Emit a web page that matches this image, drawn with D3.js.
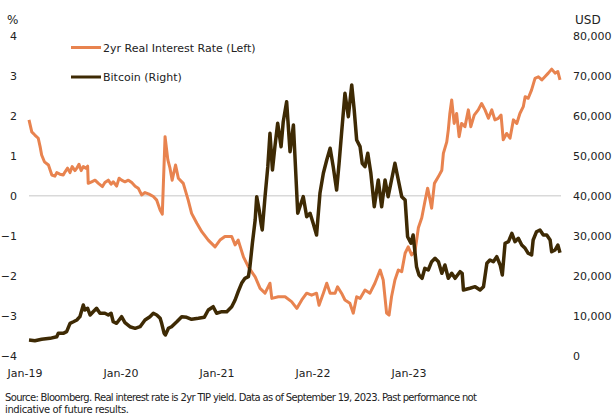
<!DOCTYPE html>
<html>
<head>
<meta charset="utf-8">
<script src="https://cdn.jsdelivr.net/npm/d3@7"></script>
<style>
  body { margin: 0; background: #fff; }
  svg text { font-family: "DejaVu Sans", Verdana, sans-serif; fill: #222; }
</style>
</head>
<body>
<svg id="chart" width="614" height="416"></svg>
<script>
// 2yr real interest rate (%), left axis
var rateDates = [
  "2019-01-02","2019-01-11","2019-01-21","2019-02-01","2019-02-07","2019-02-12","2019-02-21","2019-03-06","2019-03-17",
  "2019-03-27","2019-04-02","2019-04-12","2019-04-23","2019-04-29","2019-05-07","2019-05-15","2019-05-22","2019-05-31",
  "2019-06-06","2019-06-13","2019-06-20","2019-06-27","2019-07-05","2019-07-11","2019-07-13","2019-07-24","2019-08-04",
  "2019-08-15","2019-08-28","2019-09-05","2019-09-16","2019-09-25","2019-10-02","2019-10-13","2019-10-21","2019-10-29",
  "2019-11-09","2019-11-20","2019-12-01","2019-12-12","2019-12-22","2020-01-02","2020-01-13","2020-01-26","2020-02-09",
  "2020-02-20","2020-03-02","2020-03-09","2020-03-18","2020-03-27","2020-04-03","2020-04-10","2020-04-21","2020-04-30",
  "2020-05-16","2020-06-01","2020-06-12","2020-06-29","2020-07-15","2020-08-05","2020-08-27","2020-09-12","2020-09-28",
  "2020-10-20","2020-10-31","2020-11-10","2020-11-27","2020-12-13","2021-01-04","2021-01-20","2021-02-05","2021-02-21",
  "2021-02-27","2021-03-20","2021-04-11","2021-05-02","2021-05-19","2021-06-04","2021-06-20","2021-07-06","2021-07-22",
  "2021-07-30","2021-08-13","2021-08-24","2021-09-04","2021-09-20","2021-09-28","2021-10-11","2021-10-22","2021-11-07",
  "2021-11-18","2021-11-29","2021-12-10","2021-12-26","2022-01-11","2022-01-27","2022-02-13","2022-02-23","2022-03-06",
  "2022-03-14","2022-03-22","2022-04-02","2022-04-13","2022-04-24","2022-05-05","2022-05-15","2022-05-26","2022-06-06",
  "2022-06-17","2022-06-28","2022-07-08","2022-07-17","2022-07-25","2022-07-30","2022-08-08","2022-08-21","2022-09-01",
  "2022-09-06","2022-09-17","2022-09-22","2022-09-27","2022-10-03","2022-10-11","2022-10-19","2022-10-27","2022-11-04",
  "2022-11-15","2022-11-26","2022-12-04","2022-12-15","2022-12-28","2023-01-08","2023-01-19","2023-01-30","2023-02-10",
  "2023-02-20","2023-03-03","2023-03-12","2023-03-19","2023-03-30","2023-04-10","2023-04-21","2023-05-02","2023-05-12",
  "2023-05-23","2023-05-29","2023-06-08","2023-06-19","2023-06-30","2023-07-11","2023-07-22","2023-08-01","2023-08-12",
  "2023-08-23","2023-09-03","2023-09-12","2023-09-19"];
var rateValues = [
  1.90,1.60,1.52,1.44,1.23,1.02,0.85,0.77,0.52,
  0.49,0.58,0.54,0.52,0.60,0.69,0.58,0.73,0.63,
  0.69,0.79,0.63,0.73,0.69,0.74,0.31,0.35,0.39,
  0.31,0.23,0.33,0.39,0.29,0.35,0.24,0.44,0.39,
  0.35,0.39,0.33,0.24,0.19,0.02,0.08,0.04,-0.02,
  -0.11,-0.36,-0.46,1.48,0.90,0.69,0.39,0.77,0.44,
  0.31,-0.11,-0.44,-0.69,-0.90,-1.11,-1.28,-1.11,-1.02,
  -1.02,-1.23,-1.11,-1.53,-1.78,-2.03,-2.32,-2.44,-2.19,
  -2.57,-2.53,-2.53,-2.65,-2.82,-2.61,-2.44,-2.49,-2.44,
  -2.74,-2.44,-2.19,-2.44,-2.44,-2.28,-2.44,-2.61,-2.69,
  -2.94,-2.53,-2.57,-2.36,-2.44,-2.19,-1.86,-2.11,-2.94,
  -2.99,-2.53,-2.11,-1.86,-1.90,-1.44,-1.28,-1.48,-1.40,
  -0.80,-0.55,-0.15,0.19,-0.11,-0.31,0.31,0.48,0.64,
  1.06,1.35,1.65,2.06,2.40,1.81,2.06,1.48,1.81,
  1.73,2.15,1.73,2.02,2.15,2.31,2.15,1.94,2.15,
  1.90,1.94,2.02,1.40,1.56,1.44,1.90,1.81,2.06,
  2.23,2.48,2.44,2.65,2.94,2.98,2.90,2.98,3.07,
  3.17,3.07,3.11,2.90];

// Bitcoin price (USD), right axis
var btcDates = [
  "2019-01-02","2019-01-21","2019-02-12","2019-03-11","2019-04-02","2019-04-07","2019-04-23","2019-05-04","2019-05-15",
  "2019-05-26","2019-06-06","2019-06-16","2019-06-27","2019-07-02","2019-07-11","2019-07-19","2019-07-29","2019-08-09",
  "2019-08-20","2019-09-05","2019-09-16","2019-09-25","2019-10-02","2019-10-13","2019-10-29","2019-11-09","2019-11-25",
  "2019-12-12","2019-12-28","2020-01-13","2020-01-29","2020-02-09","2020-02-20","2020-03-02","2020-03-07","2020-03-15",
  "2020-03-19","2020-03-29","2020-04-08","2020-04-25","2020-05-11","2020-05-27","2020-06-12","2020-07-04","2020-07-23",
  "2020-08-05","2020-08-21","2020-09-01","2020-09-18","2020-10-04","2020-10-20","2020-10-31","2020-11-10","2020-11-21",
  "2020-12-02","2020-12-13","2020-12-18","2020-12-26","2021-01-04","2021-01-09","2021-01-17","2021-01-23","2021-01-27",
  "2021-02-05","2021-02-14","2021-02-21","2021-03-01","2021-03-09","2021-03-18","2021-03-29","2021-04-05","2021-04-16",
  "2021-04-27","2021-05-08","2021-05-22","2021-05-29","2021-06-09","2021-06-20","2021-07-01","2021-07-11","2021-07-22",
  "2021-08-02","2021-08-13","2021-08-24","2021-09-04","2021-09-14","2021-09-25","2021-10-03","2021-10-11","2021-10-22",
  "2021-11-02","2021-11-13","2021-11-21","2021-11-29","2021-12-10","2021-12-17","2021-12-26","2022-01-04","2022-01-14",
  "2022-01-25","2022-02-07","2022-02-18","2022-03-01","2022-03-11","2022-03-22","2022-04-02","2022-04-13","2022-04-24",
  "2022-05-05","2022-05-13","2022-05-24","2022-05-31","2022-06-11","2022-06-19","2022-06-29","2022-07-08","2022-07-19",
  "2022-07-30","2022-08-10","2022-08-21","2022-09-01","2022-09-11","2022-09-22","2022-10-03","2022-10-14","2022-10-30",
  "2022-11-06","2022-11-10","2022-12-01","2022-12-18","2023-01-03","2023-01-14","2023-01-25","2023-02-04","2023-02-15",
  "2023-02-26","2023-03-09","2023-03-16","2023-03-25","2023-04-05","2023-04-16","2023-04-26","2023-05-07","2023-05-18",
  "2023-05-29","2023-06-08","2023-06-19","2023-06-24","2023-07-05","2023-07-16","2023-07-27","2023-08-07","2023-08-18",
  "2023-08-23","2023-09-03","2023-09-12","2023-09-19"];
var btcValues = [
  3880,3710,4050,4300,4710,5560,5560,5960,8060,
  8460,8890,9720,12650,11390,11820,10140,10970,11820,
  10570,10570,10140,10570,8460,8060,9720,8210,7210,
  6810,7210,8890,9720,10570,10140,9310,8060,5560,
  5130,6810,7210,8460,9720,9560,9060,9310,9560,
  11390,12220,10570,10970,10970,12220,13900,15980,18080,
  19330,19730,22240,28100,33930,39770,36430,33100,31430,
  39770,47280,55640,46450,52290,58140,52290,58540,63550,
  51030,57720,35610,37260,39770,34760,35610,33100,30170,
  40610,45620,48950,51880,47280,41440,48130,55640,65650,
  59800,67730,61470,53960,52290,48130,47280,50630,45620,
  37260,43950,37260,43950,39770,43950,48130,43950,39770,
  38940,29750,28100,30170,22240,20160,19330,21830,21410,
  23490,24330,23490,20580,22660,19330,20580,19330,20980,
  20580,16400,16830,17230,16400,17230,23090,23910,23490,
  24740,22660,20160,28100,28500,30600,28500,29350,27670,
  26840,25590,25170,28920,31000,31430,30170,30170,28920,
  25990,26420,27670,25740];

var leftTicks = [-4, -3, -2, -1, 0, 1, 2, 3, 4];
var rightTicks = [0, 10000, 20000, 30000, 40000, 50000, 60000, 70000, 80000];
var xLabels = ["Jan-19", "Jan-20", "Jan-21", "Jan-22", "Jan-23"];

var orange = "#e8834f";
var brown = "#3e2a04";
var parse = d3.timeParse("%Y-%m-%d");

var svg = d3.select("#chart");

var x = d3.scaleTime()
  .domain([parse("2019-01-02"), parse("2023-09-19")])
  .range([29, 560]);
var yLeft = d3.scaleLinear().domain([-4, 4]).range([355.5, 36]);
var yRight = d3.scaleLinear().domain([0, 80000]).range([355.5, 36]);
// the date labels sit where the source chart put them, not on the Jan dates
var xLabel = d3.scalePoint().domain(xLabels).range([25, 409]);

// zero line
svg.append("line")
  .attr("x1", 29).attr("x2", 561)
  .attr("y1", yLeft(0)).attr("y2", yLeft(0))
  .attr("stroke", "#d9d9d9").attr("stroke-width", 1.5);

// left axis
var gl = svg.append("g")
  .attr("transform", "translate(17,0)")
  .call(d3.axisLeft(yLeft).tickValues(leftTicks).tickSize(0).tickPadding(0));
gl.select(".domain").remove();
gl.selectAll("text").style("font-size", "11px").style("font-family", null);

// right axis
var gr = svg.append("g")
  .attr("transform", "translate(573,0)")
  .call(d3.axisRight(yRight).tickValues(rightTicks).tickSize(0).tickPadding(0).tickFormat(d3.format(",")));
gr.select(".domain").remove();
gr.selectAll("text").style("font-size", "11px").style("font-family", null);

// x labels
svg.append("g").selectAll("text")
  .data(xLabels)
  .enter().append("text")
  .attr("x", function(d) { return xLabel(d); })
  .attr("y", 377)
  .attr("text-anchor", "middle")
  .style("font-size", "11px")
  .text(function(d) { return d; });

svg.append("text").attr("x", 7).attr("y", 24).style("font-size", "12px").text("%");
svg.append("text").attr("x", 575).attr("y", 24).style("font-size", "12px").text("USD");

var rateData = rateDates.map(function(d, i) { return {date: parse(d), value: rateValues[i]}; });
var btcData = btcDates.map(function(d, i) { return {date: parse(d), value: btcValues[i]}; });

var rateLine = d3.line()
  .x(function(d) { return x(d.date); })
  .y(function(d) { return yLeft(d.value); });
var btcLine = d3.line()
  .x(function(d) { return x(d.date); })
  .y(function(d) { return yRight(d.value); });

svg.append("path").datum(rateData)
  .attr("d", rateLine)
  .attr("fill", "none").attr("stroke", orange).attr("stroke-width", 3)
  .attr("stroke-linejoin", "round");
svg.append("path").datum(btcData)
  .attr("d", btcLine)
  .attr("fill", "none").attr("stroke", brown).attr("stroke-width", 3.5)
  .attr("stroke-linejoin", "round");

// legend
var legend = [
  {label: "2yr Real Interest Rate (Left)", color: orange, y: 47.5},
  {label: "Bitcoin (Right)", color: brown, y: 77}
];
legend.forEach(function(l) {
  svg.append("line")
    .attr("x1", 71).attr("x2", 101).attr("y1", l.y).attr("y2", l.y)
    .attr("stroke", l.color).attr("stroke-width", 3);
  svg.append("text")
    .attr("x", 103).attr("y", l.y + 4)
    .style("font-size", "11px")
    .text(l.label);
});

// footer
svg.append("text").attr("x", 5).attr("y", 401).style("font-size", "10px")
  .attr("textLength", 472).attr("lengthAdjust", "spacing")
  .text("Source: Bloomberg. Real interest rate is 2yr TIP yield. Data as of September 19, 2023. Past performance not");
svg.append("text").attr("x", 5).attr("y", 413).style("font-size", "10px")
  .attr("textLength", 124).attr("lengthAdjust", "spacing")
  .text("indicative of future results.");
</script>
</body>
</html>
